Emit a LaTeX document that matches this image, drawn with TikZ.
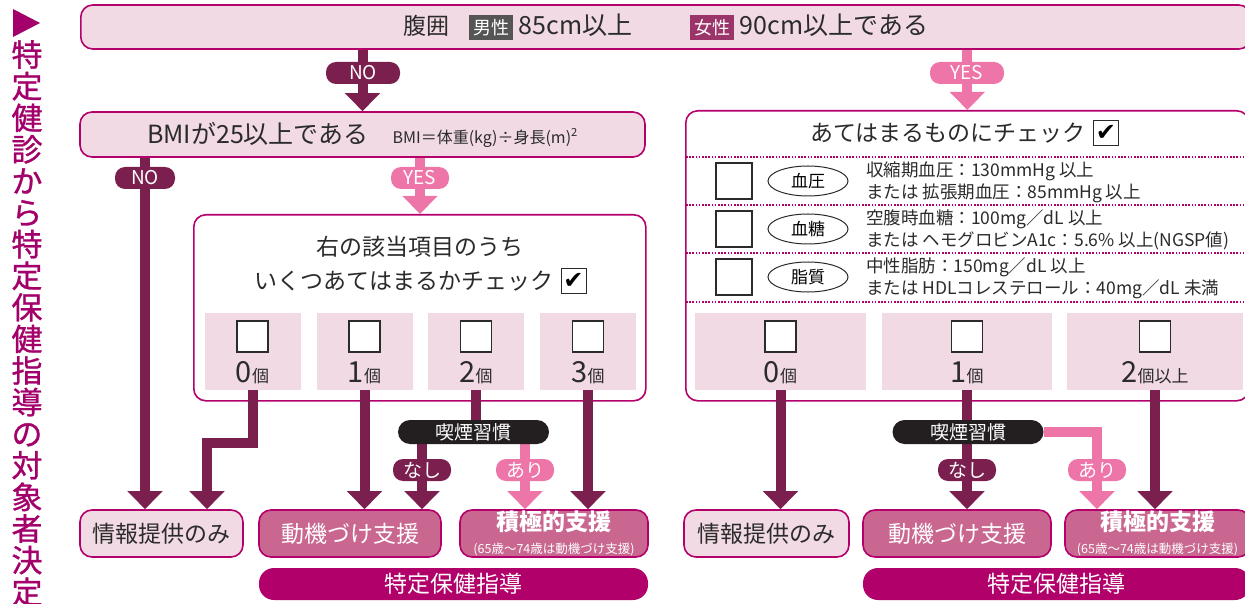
\documentclass[tikz,border=0pt]{standalone}
\usepackage{fontspec}
\setmainfont{Noto Sans CJK JP}
\newfontfamily\headfont[FakeBold=0.9]{Noto Sans CJK JP}
\newfontfamily\symfont{DejaVu Sans}
\usetikzlibrary{positioning,arrows.meta,shapes.geometric}

\definecolor{plum}{HTML}{7B1F4E}
\definecolor{rosa}{HTML}{EE75A8}
\definecolor{rim}{HTML}{B4006B}
\definecolor{pale}{HTML}{F1DAE4}
\definecolor{mauve}{HTML}{C96790}
\definecolor{deep}{HTML}{B2006A}
\definecolor{ink}{HTML}{231F20}
\definecolor{txt}{HTML}{2B2B2B}
\definecolor{male}{HTML}{555555}
\definecolor{female}{HTML}{9B3468}
\definecolor{headline}{HTML}{A3006B}

\pgfdeclarelayer{back}
\pgfdeclarelayer{flow}
\pgfsetlayers{back,flow,main}

\newcommand\sz[1]{\fontsize{#1}{#1}\selectfont}
\newcommand\kosu[1][]{{\sz{17}個#1}}
\newcommand\sextag[2]{{\setlength{\fboxsep}{4pt}\colorbox{#1}{\textcolor{white}{\sz{18}#2}}}}

\tikzset{
  box/.style={draw=rim, line width=1.6pt, rounded corners=12pt, inner sep=0pt, text=txt},
  palebox/.style={box, fill=pale},
  mauvebox/.style={box, fill=mauve, text=white},
  guidebar/.style={fill=deep, rounded corners=15pt, minimum height=32pt, inner sep=0pt, text=white, font=\sz{23}},
  cell/.style={fill=pale, minimum height=77pt, inner sep=0pt},
  tick/.style={draw=txt, line width=1.8pt, fill=white, minimum size=31pt, inner sep=0pt},
  chk/.style={draw=txt, line width=0.8pt, fill=white, minimum size=25pt, inner sep=0pt, font=\symfont\sz{24}},
  count/.style={anchor=base, inner sep=0pt, text=txt, font=\sz{29}},
  item/.style={ellipse, draw=txt, line width=1pt, minimum width=80pt, minimum height=30pt, inner sep=0pt, font=\sz{17}},
  spec/.style={anchor=west, align=left, inner sep=0pt, text=txt, font=\fontsize{17.5}{22}\selectfont},
  pill/.style={rounded corners=10pt, minimum height=22pt, inner sep=0pt, text=white, font=\sz{19}},
  nopill/.style={pill, fill=plum},
  yespill/.style={pill, fill=rosa},
  habit/.style={pill, fill=ink, minimum width=151pt, minimum height=24pt, rounded corners=12pt, font=\sz{19}},
  dots/.style={draw=rim, line width=1.2pt, dash pattern=on 1.6pt off 1.6pt},
  noarr/.style={line width=10pt, draw=plum, -{Triangle[width=34pt,length=18pt]}},
  yesarr/.style={noarr, draw=rosa},
}

\begin{document}
\begin{tikzpicture}[x=1pt, y=-1pt, font=\sz{23}]
\useasboundingbox (0,0) rectangle (1245,604);

% side heading
\fill[headline] (13,9) -- (40,23) -- (13,37) -- cycle;
\node[anchor=north, align=center, inner sep=0pt, text=headline, font=\headfont\fontsize{31}{31.6}\selectfont] (heading) at (27,40)
  {特\\定\\健\\診\\か\\ら\\特\\定\\保\\健\\指\\導\\の\\対\\象\\者\\決\\定};

% large frames
\begin{pgfonlayer}{back}
\node[palebox, anchor=west, minimum width=1170pt, minimum height=44pt] (waist) at (80,27)
  {腹囲\hspace{20pt}\sextag{male}{男性} \sz{25}85cm以上\hspace{58pt}\sextag{female}{女性} \sz{25}90cm以上である};
\node[palebox, minimum width=565pt, minimum height=45pt] (bmi) at (362.5,134.5)
  {{\sz{25}BMIが25以上である}\hspace{24pt}{\sz{16}BMI＝体重(kg)÷身長(m)\textsuperscript{2}}};
\node[box, fill=white, anchor=north west, minimum width=452pt, minimum height=186pt] (pick) at (193,214) {};
\node[box, fill=white, anchor=north west, minimum width=563pt, minimum height=290pt] (check) at (685,110) {};
\end{pgfonlayer}

% left: count of items
\node[text=txt] (pickq) at (420,247) {右の該当項目のうち};
\node[text=txt] (pickq2) at (404,281) {いくつあてはまるかチェック};
\node[chk, right=4pt of pickq2] (pickchk) {✔};
\foreach \name/\x/\lab in {l0/252.5/0, l1/364.5/1, l2/476/2, l3/588/3} {
  \node[cell, minimum width=96pt] (\name) at (\x,351.5) {};
  \node[tick, below=7pt of \name.north] (\name box) {};
  \node[count] (\name lab) at ([yshift=8pt]\name.south) {\lab\kosu};
}

% right: risk factors
\node[text=txt] (checkq) at (948,133) {あてはまるものにチェック};
\node[chk, right=4pt of checkq] (checkchk) {✔};
\foreach \y in {157,205,253,302}
  \draw[dots] (686,\y) -- (1248,\y);
\node[tick, minimum size=36pt] (bptick) at (734,181) {};
\node[item] (bp) at (808,181) {血圧};
\node[spec] (bpspec) at (866,182) {収縮期血圧：130mmHg 以上\\または 拡張期血圧：85mmHg 以上};
\node[tick, minimum size=36pt] (sugartick) at (734,229) {};
\node[item] (sugar) at (808,229) {血糖};
\node[spec] (sugarspec) at (866,230) {空腹時血糖：100mg／dL 以上\\または ヘモグロビンA1c：5.6\% 以上(NGSP値)};
\node[tick, minimum size=36pt] (fattick) at (734,277) {};
\node[item] (fat) at (808,277) {脂質};
\node[spec] (fatspec) at (866,278) {中性脂肪：150mg／dL 以上\\または HDLコレステロール：40mg／dL 未満};
\foreach \name/\x/\w/\lab in {r0/780.5/171/0\kosu, r1/967/170/1\kosu, r2/1155/176/2\kosu[以上]} {
  \node[cell, minimum width=\w pt] (\name) at (\x,351.5) {};
  \node[tick, below=7pt of \name.north] (\name box) {};
  \node[count] (\name lab) at ([yshift=8pt]\name.south) {\lab};
}

% labels on the arrows
\node[nopill, minimum width=74pt] (topno) at (363,73) {NO};
\node[yespill, minimum width=74pt] (topyes) at (967,73) {YES};
\node[nopill, minimum width=60pt] (bmino) at (145,178) {NO};
\node[yespill, minimum width=58pt] (bmiyes) at (420,178) {YES};
\node[habit] (smokeL) at (473.5,432) {喫煙習慣};
\node[habit] (smokeR) at (968,432) {喫煙習慣};
\node[nopill, minimum width=58pt] (nashiL) at (422,470) {なし};
\node[yespill, minimum width=58pt] (ariL) at (525,470) {あり};
\node[nopill, minimum width=58pt] (nashiR) at (967,470) {なし};
\node[yespill, minimum width=58pt] (ariR) at (1097,470) {あり};

% outcomes
\node[palebox, minimum width=163pt, minimum height=47pt] (infoL) at (161.5,533.5) {情報提供のみ};
\node[mauvebox, minimum width=182pt, minimum height=47pt] (motivL) at (350,533.5) {動機づけ支援};
\node[mauvebox, align=center, minimum width=188pt, minimum height=47pt] (activeL) at (554,533.5)
  {{\bfseries\fontsize{23}{25}\selectfont 積極的支援}\\{\fontsize{12.5}{15}\selectfont (65歳〜74歳は動機づけ支援)}};
\node[guidebar, minimum width=389pt] (guideL) at (453.5,584) {特定保健指導};
\node[palebox, minimum width=165pt, minimum height=47pt] (infoR) at (766.5,533.5) {情報提供のみ};
\node[mauvebox, minimum width=188pt, minimum height=47pt] (motivR) at (957,533.5) {動機づけ支援};
\node[mauvebox, align=center, minimum width=185pt, minimum height=47pt] (activeR) at (1157.5,533.5)
  {{\bfseries\fontsize{23}{25}\selectfont 積極的支援}\\{\fontsize{12.5}{15}\selectfont (65歳〜74歳は動機づけ支援)}};
\node[guidebar, minimum width=387pt] (guideR) at (1056.5,584) {特定保健指導};

% flow arrows
\begin{pgfonlayer}{flow}
\draw[noarr] (waist.south -| bmi.north) -- (bmi.north);
\draw[yesarr] (waist.south -| check.north) -- (check.north);
\draw[noarr] (bmi.south -| bmino) -- (infoL.north -| bmino);
\draw[yesarr] (bmi.south -| bmiyes) -- (pick.north -| bmiyes);
\coordinate (bend0) at (207,443);
\draw[noarr] (l0.south) |- (bend0) -- (bend0 |- infoL.north);
\draw[noarr] (l1.south) -- (l1.south |- motivL.north);
\draw[line width=10pt, plum] (l2.south) -- (l2.south |- smokeL.north);
\draw[noarr] (smokeL.south -| nashiL) -- (nashiL |- motivL.north);
\draw[yesarr] (smokeL.south -| ariL) -- (ariL |- activeL.north);
\draw[noarr] (l3.south) -- (l3.south |- activeL.north);
\draw[noarr] (r0.south) -- (r0.south |- infoR.north);
\draw[noarr] (r1.south) -- (r1.south |- motivR.north);
\draw[yesarr] (smokeR.east) -| (ariR |- activeR.north);
\draw[noarr] (r2.south) -- (r2.south |- activeR.north);
\end{pgfonlayer}
\end{tikzpicture}
\end{document}
